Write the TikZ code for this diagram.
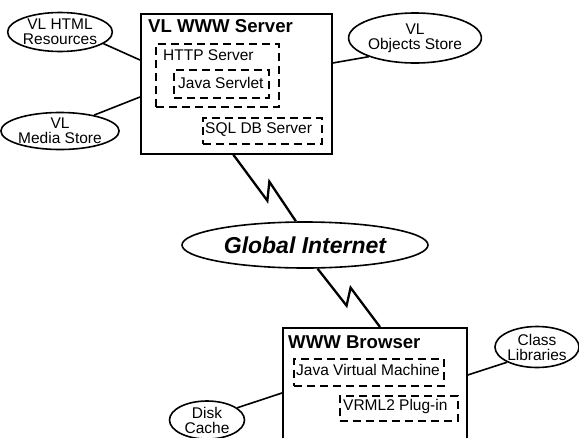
\documentclass[tikz,border=0pt]{standalone}
\usepackage{fontspec}
\setmainfont{Liberation Sans}
\usetikzlibrary{shapes.geometric}

\newcommand{\txtfont}{\fontsize{15.5}{15}\selectfont}
\newcommand{\hostfont}{\fontsize{18.6}{20}\selectfont\bfseries}
\newcommand{\netfont}{\fontsize{23}{24}\selectfont\bfseries\itshape}

\tikzset{
	store/.style={ellipse, draw, line width=1.6pt, inner sep=0pt, align=center, font=\txtfont},
	host/.style={draw, line width=1.7pt, anchor=north west, inner sep=0pt},
	part/.style={draw, line width=1.5pt, dash pattern=on 8pt off 5pt, anchor=north west, inner sep=0pt},
	label/.style={anchor=base west, inner sep=0pt, font=\txtfont},
	link/.style={line width=1.6pt},
	bolt/.style={line width=2.3pt, line join=miter}
}

\begin{document}
\begin{tikzpicture}[x=1pt, y=-1pt]
	\useasboundingbox (0,0) rectangle (579,437);
	\clip (0,0) rectangle (579,437);
	% server side
	\node[host, minimum width=191pt, minimum height=140pt] (server) at (140,13) {};
	\node[label, font=\hostfont] (servertitle) at (148,32) {VL WWW Server};
	\node[part, minimum width=123pt, minimum height=63pt] (http) at (155,43) {};
	\node[label] (httplabel) at (163,60) {HTTP Server};
	\node[part, minimum width=95pt, minimum height=28pt] (servlet) at (173,69) {};
	\node[label] (servletlabel) at (178,88) {Java Servlet};
	\node[part, minimum width=119pt, minimum height=26pt] (sqldb) at (202,117) {};
	\node[label] (sqllabel) at (205,133) {SQL DB Server};
	\node[store, minimum width=91pt, minimum height=39pt] (htmlres) at (60,32) {VL HTML\\Resources};
	\node[store, minimum width=94pt, minimum height=37pt] (media) at (60,131) {VL\\Media Store};
	\node[store, minimum width=105pt, minimum height=50pt] (objects) at (415,38) {VL\\Objects Store};
	\draw[link] (htmlres.-15) -- ([yshift=-47pt]server.north west);
	\draw[link] (media.25) -- ([yshift=-84pt]server.north west);
	\draw[link] (objects.202) -- ([yshift=-50pt]server.north east);
	% network
	\node[ellipse, draw, line width=1.6pt, inner sep=0pt, minimum width=246pt, minimum height=46pt, font=\netfont] (internet) at (305,245) {Global Internet};
	% client side
	\node[host, minimum width=184pt, minimum height=130pt] (browser) at (282,327) {};
	\node[label, font=\hostfont] (browsertitle) at (288,348) {WWW Browser};
	\node[part, minimum width=150pt, minimum height=27pt] (jvm) at (293,358) {};
	\node[label] (jvmlabel) at (296,375) {Java Virtual Machine};
	\node[part, minimum width=118pt, minimum height=25pt] (vrml) at (339,395) {};
	\node[label] (vrmllabel) at (343,410) {VRML2 Plug-in};
	\node[store, minimum width=79pt, minimum height=41pt] (classlib) at (537,347) {Class\\Libraries};
	\node[store, minimum width=75pt, minimum height=38pt] (disk) at (207,420) {Disk\\Cache};
	\draw[link] (classlib.207) -- ([yshift=-48pt]browser.north east);
	\draw[link] (disk.22) -- ([yshift=-66pt]browser.north west);
	% links to the internet
	\draw[bolt] ([xshift=-3pt]server.south) -- ++(34,46) -- ++(2,-19) -- (internet.111);
	\draw[bolt] (internet.-62) -- ++(29,37) -- ++(4,-18) -- ([xshift=98pt]browser.north west);
\end{tikzpicture}
\end{document}
